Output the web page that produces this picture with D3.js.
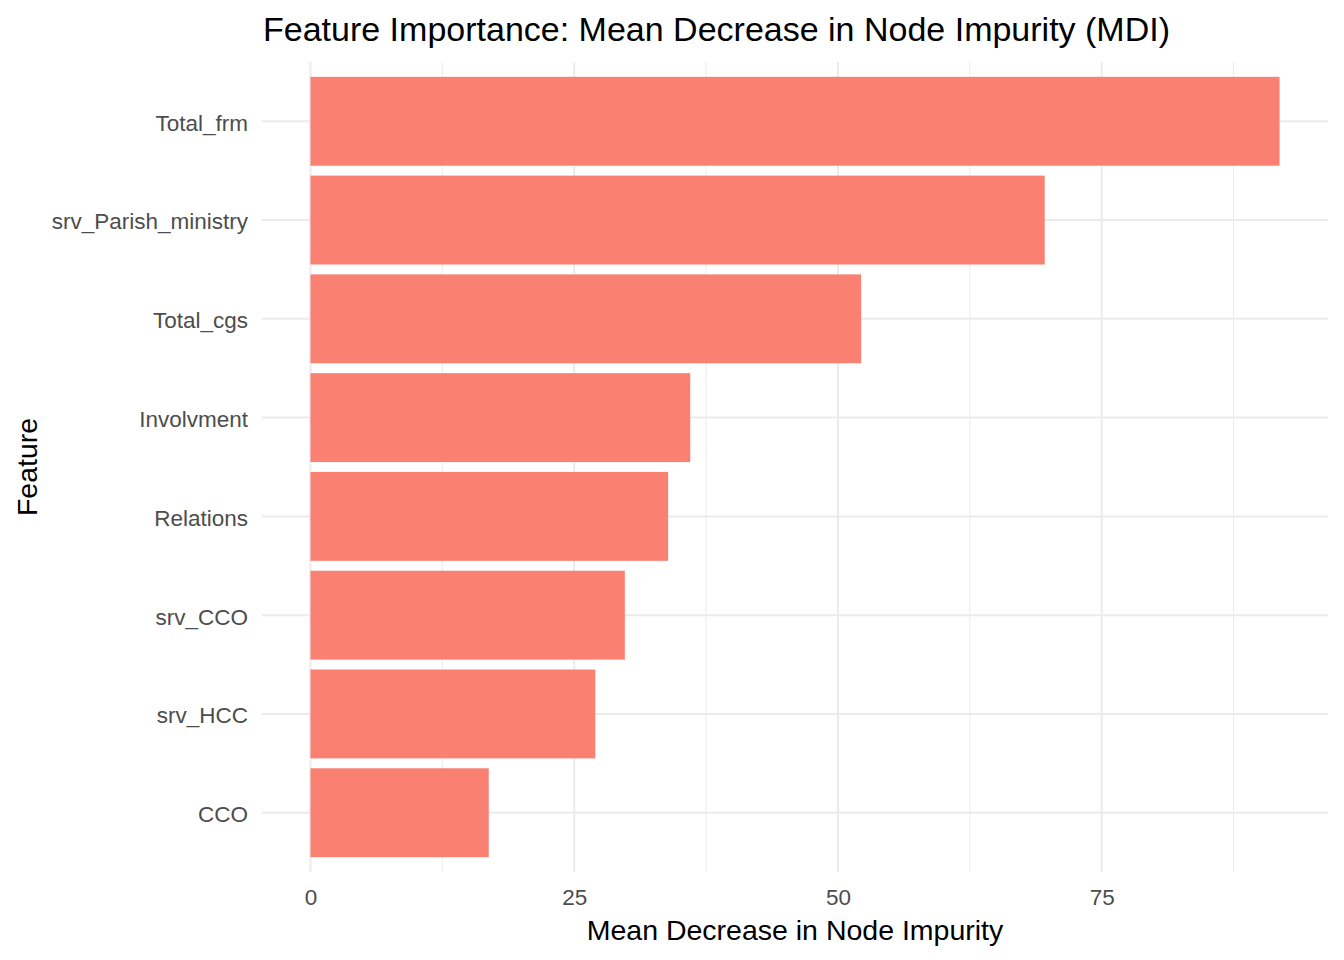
<!DOCTYPE html>
<html>
<head>
<meta charset="utf-8">
<script src="https://cdn.jsdelivr.net/npm/d3@7"></script>
<style>
  body { margin: 0; background: #fff; }
  text { font-family: "Liberation Sans", Arial, sans-serif; }
</style>
</head>
<body>
<div id="chart"></div>
<script>
// values
const features = ["Total_frm", "srv_Parish_ministry", "Total_cgs", "Involvment",
                  "Relations", "srv_CCO", "srv_HCC", "CCO"]
const importance = [91.86, 69.6, 52.2, 36.0, 33.9, 29.8, 27.0, 16.9]
const xTicks = [0, 25, 50, 75]
const xMinor = [12.5, 37.5, 62.5, 87.5]

const w = 1344
const h = 960
const margin = { top: 62, right: 16, bottom: 88, left: 262 }

const svg = d3.select("#chart")
  .append("svg")
  .attr("width", w)
  .attr("height", h)

const rows = features.map((f, i) => ({ feature: f, value: importance[i] }))

const maxVal = d3.max(importance)
const pad = maxVal * 0.05

const x = d3.scaleLinear()
  .domain([-pad, maxVal + pad])
  .range([margin.left, w - margin.right])

// discrete axis with ggplot's 0.6 additive expansion
const yPos = d3.scaleLinear()
  .domain([0.4, features.length + 0.6])
  .range([margin.top, h - margin.bottom])
const y = (f) => yPos(features.indexOf(f) + 1)
const bandH = yPos(1.9) - yPos(1)

const grid = svg.append("g")

grid.selectAll(".minor")
  .data(xMinor)
  .enter()
  .append("line")
  .attr("x1", (d) => x(d))
  .attr("x2", (d) => x(d))
  .attr("y1", margin.top)
  .attr("y2", h - margin.bottom)
  .attr("stroke", "#ebebeb")
  .attr("stroke-width", 1)

grid.selectAll(".major")
  .data(xTicks)
  .enter()
  .append("line")
  .attr("x1", (d) => x(d))
  .attr("x2", (d) => x(d))
  .attr("y1", margin.top)
  .attr("y2", h - margin.bottom)
  .attr("stroke", "#ebebeb")
  .attr("stroke-width", 2)

grid.selectAll(".hmajor")
  .data(features)
  .enter()
  .append("line")
  .attr("x1", margin.left)
  .attr("x2", w - margin.right)
  .attr("y1", (d) => y(d))
  .attr("y2", (d) => y(d))
  .attr("stroke", "#ebebeb")
  .attr("stroke-width", 2)

svg.selectAll("rect.bar")
  .data(rows)
  .enter()
  .append("rect")
  .attr("class", "bar")
  .attr("x", x(0))
  .attr("y", (d) => y(d.feature) - bandH / 2)
  .attr("width", (d) => x(d.value) - x(0))
  .attr("height", bandH)
  .attr("fill", "#fa8072")

// axes with ggplot look: no lines, grey labels
const xAxis = svg.append("g")
  .attr("transform", `translate(0,${h - margin.bottom})`)
  .call(d3.axisBottom(x).tickValues(xTicks).tickSize(0).tickPadding(17.5))
xAxis.select(".domain").remove()
xAxis.selectAll("text")
  .attr("fill", "#4d4d4d")
  .style("font-size", "22.5px")
  .style("font-family", "Liberation Sans, Arial, sans-serif")

const yAxisG = svg.append("g")
  .attr("transform", `translate(${margin.left},0)`)
yAxisG.selectAll("text")
  .data(features)
  .enter()
  .append("text")
  .attr("x", -14)
  .attr("y", (d) => y(d))
  .attr("dy", "0.42em")
  .attr("text-anchor", "end")
  .attr("fill", "#4d4d4d")
  .style("font-size", "22.5px")
  .text((d) => d)

svg.append("text")
  .attr("x", (margin.left + w - margin.right) / 2)
  .attr("y", 940)
  .attr("text-anchor", "middle")
  .style("font-size", "28.5px")
  .text("Mean Decrease in Node Impurity")

svg.append("text")
  .attr("transform", `translate(37,${(margin.top + h - margin.bottom) / 2}) rotate(-90)`)
  .attr("text-anchor", "middle")
  .style("font-size", "28.5px")
  .text("Feature")

svg.append("text")
  .attr("x", 263)
  .attr("y", 41)
  .style("font-size", "34px")
  .text("Feature Importance: Mean Decrease in Node Impurity (MDI)")
</script>
</body>
</html>
